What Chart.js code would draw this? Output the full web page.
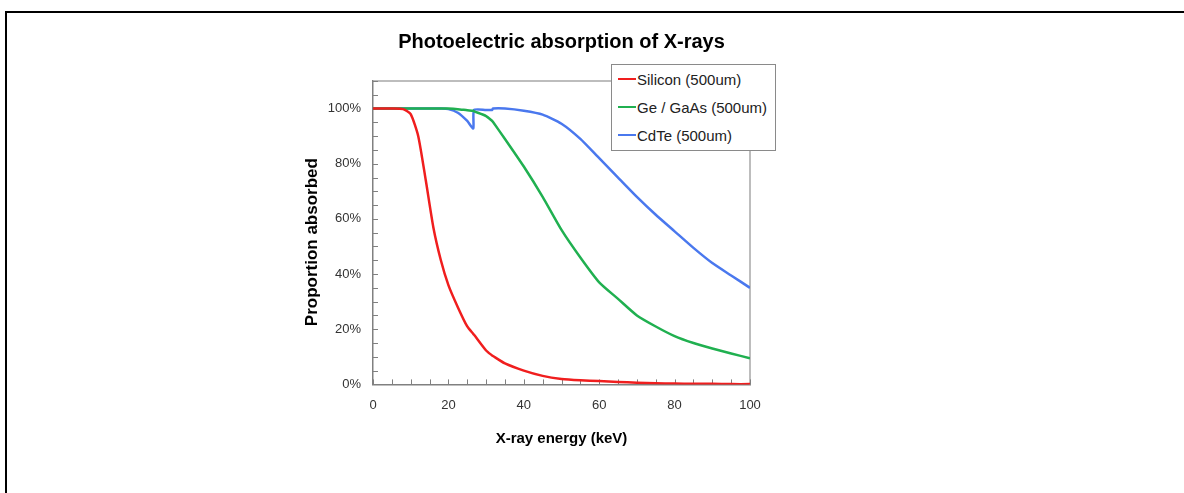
<!DOCTYPE html>
<html>
<head>
<meta charset="utf-8">
<title>Photoelectric absorption of X-rays</title>
<script src="https://cdn.jsdelivr.net/npm/chart.js@4.4.1/dist/chart.umd.min.js"></script>
<style>
    html, body { margin: 0; padding: 0; background: #fff; }
    body { width: 1184px; height: 493px; position: relative; overflow: hidden; font-family: Arial, "Liberation Sans", sans-serif; }
    #frame { position: absolute; left: 5px; top: 11px; width: 1400px; height: 700px; border: 2px solid #000; box-sizing: border-box; }
    #chart { position: absolute; left: 0; top: 0; }
    #legend { position: absolute; left: 611px; top: 64px; width: 165px; height: 87px; box-sizing: border-box;
              border: 1px solid #8a8a8a; background: #fff; padding-left: 6px; }
    .item { height: 28px; display: flex; align-items: center; font-size: 15px; color: #222; white-space: nowrap; }
    .swatch { width: 18px; height: 2.5px; margin-right: 1px; }
</style>
</head>
<body>
<div id="frame"></div>
<canvas id="chart" width="1184" height="493"></canvas>
<div id="legend"></div>
<script>
// X-ray energy in keV (shared by all three curves)
const energy = [0, 5, 8, 10, 12, 14, 16, 18, 20, 22.5, 25, 26.6, 26.8, 30, 31.6, 31.8, 35, 40, 45, 50, 55, 60, 65, 70, 75, 80, 85, 90, 95, 100];

// proportion absorbed, %
const silicon = [100, 100, 99.8, 98, 90, 74, 57, 45, 36, 28, 21, 18.3, 18, 12.3, 10.5, 10.3, 7.6, 5, 3.1, 2, 1.5, 1.2, 0.9, 0.6, 0.4, 0.3, 0.2, 0.2, 0.1, 0.1];
const geGaAs = [100, 100, 100, 100, 100, 100, 100, 100, 100, 99.8, 99.4, 99.2, 99, 97.3, 95.5, 95.2, 89, 79, 68, 56, 46, 37, 31, 25, 21, 17.5, 15, 13, 11.2, 9.5];
const cdte = [100, 100, 100, 100, 100, 100, 100, 100, 99.8, 98.5, 95.5, 92.8, 99.5, 99.5, 99.5, 100, 100, 99.2, 97.8, 94.5, 89, 82, 75, 68, 61.5, 55.5, 49.5, 44, 39.5, 35];

const seriesNames = ['Silicon (500um)', 'Ge / GaAs (500um)', 'CdTe (500um)'];
const seriesColors = ['#f01e1e', '#20b050', '#4a78ee'];

const xLabelStep = 20;
const yLabelStep = 20;

Chart.defaults.font.family = 'Arial, "Liberation Sans", sans-serif';
Chart.defaults.color = '#333';

function toPoints(values) {
    return energy.map((e, i) => ({ x: e, y: values[i] }));
}

// plot frame (top/right) and the small inward tick marks
const frameTicks = {
    id: 'frameTicks',
    beforeDatasetsDraw(chart) {
        const { ctx, chartArea: a, scales: { x, y } } = chart;
        ctx.save();
        ctx.strokeStyle = '#a8a8a8';
        ctx.lineWidth = 1.5;
        ctx.beginPath();
        ctx.moveTo(a.left, a.top);
        ctx.lineTo(a.right, a.top);
        ctx.lineTo(a.right, a.bottom);
        ctx.stroke();

        ctx.strokeStyle = '#808080';
        ctx.lineWidth = 1;
        ctx.beginPath();
        y.ticks.forEach(t => {
            const py = Math.round(y.getPixelForValue(t.value)) + 0.5;
            ctx.moveTo(a.left, py);
            ctx.lineTo(a.left + 5, py);
        });
        x.ticks.forEach(t => {
            const px = Math.round(x.getPixelForValue(t.value)) + 0.5;
            ctx.moveTo(px, a.bottom);
            ctx.lineTo(px, a.bottom - 5);
        });
        ctx.stroke();
        ctx.restore();
    }
};

const ctx = document.getElementById('chart').getContext('2d');
const chart = new Chart(ctx, {
    type: 'line',
    data: {
        datasets: [silicon, geGaAs, cdte].map((vals, i) => ({
            label: seriesNames[i],
            data: toPoints(vals),
            borderColor: seriesColors[i],
            backgroundColor: seriesColors[i],
            borderWidth: 2.5,
            pointRadius: 0,
            tension: 0.2
        }))
    },
    options: {
        responsive: false,
        animation: false,
        layout: { padding: { left: 295, right: 434, top: 0, bottom: 41 } },
        plugins: {
            legend: { display: false },
            tooltip: { enabled: false },
            title: {
                display: true,
                fullSize: false,
                text: 'Photoelectric absorption of X-rays',
                color: '#000',
                font: { size: 20, weight: 'bold' },
                padding: { top: 30, bottom: 27 }
            }
        },
        scales: {
            x: {
                type: 'linear',
                min: 0,
                max: 100,
                grid: { display: false, drawTicks: false },
                border: { color: '#808080', width: 1.5 },
                ticks: {
                    stepSize: 5,
                    autoSkip: false,
                    maxRotation: 0,
                    padding: 13,
                    font: { size: 13 },
                    callback: v => v % xLabelStep === 0 ? v : ''
                },
                title: {
                    display: true,
                    text: 'X-ray energy (keV)',
                    color: '#000',
                    font: { size: 15, weight: 'bold' },
                    padding: { top: 4, bottom: 4 }
                }
            },
            y: {
                min: 0,
                max: 110,
                grid: { display: false, drawTicks: false },
                border: { color: '#808080', width: 1.5 },
                afterFit: s => { s.width = 78; },
                ticks: {
                    stepSize: 5,
                    autoSkip: false,
                    padding: 12,
                    font: { size: 13 },
                    callback: v => (v % yLabelStep === 0 && v <= 100) ? v + '%' : ''
                },
                title: {
                    display: true,
                    // trailing spaces nudge the rotated title down a little, as in the original
                    text: 'Proportion absorbed    ',
                    color: '#000',
                    font: { size: 17, weight: 'bold' },
                    padding: { top: 7, bottom: 6 }
                }
            }
        }
    },
    plugins: [frameTicks]
});

// legend box drawn over the top-right corner, as in the original
const legendEl = document.getElementById('legend');
chart.data.datasets.forEach(ds => {
    const row = document.createElement('div');
    row.className = 'item';
    const sw = document.createElement('span');
    sw.className = 'swatch';
    sw.style.background = ds.borderColor;
    row.appendChild(sw);
    row.appendChild(document.createTextNode(ds.label));
    legendEl.appendChild(row);
});
</script>
</body>
</html>
